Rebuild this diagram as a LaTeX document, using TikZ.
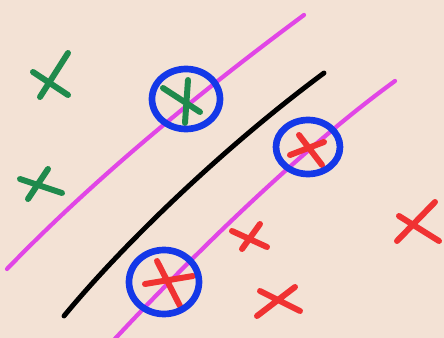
\documentclass[tikz,border=0pt]{standalone}
\definecolor{sfondo}{HTML}{F3E2D5}
\definecolor{verdecroce}{HTML}{1F8A4C}
\definecolor{rossocroce}{HTML}{F03232}
\definecolor{blucerchio}{HTML}{1438E8}
\definecolor{magentalinea}{HTML}{E146E6}
\tikzset{
  croceverde/.style={verdecroce,line width=3.4pt,line cap=round},
  crocerossa/.style={rossocroce,line width=3.4pt,line cap=round},
  cerchio/.style={blucerchio,line width=3.8pt},
  margine/.style={magentalinea,line width=2.4pt,line cap=round},
  separatore/.style={black,line width=2.8pt,line cap=round}
}
\begin{document}
\begin{tikzpicture}[x=0.02cm,y=-0.02cm]
        %sfondo
        \fill[sfondo](0,0)rectangle(444,338);
        \useasboundingbox(0,0)rectangle(444,338);

        %disegno margini
        \draw[margine](7,269)..controls (95,178) and (200,92)..(304,15);
        \draw[margine](112,342)..controls (190,258) and (300,150)..(395,81);

        %disegno separatore
        \draw[separatore](64,316)..controls (120,248) and (220,150)..(324,73);

        %croci verdi
        \draw[croceverde](68,53)--(40,97) (33,72)--(68,95);
        \draw[croceverde](48,169)--(28,199) (20,179)--(62,193);
        \draw[croceverde](188,80)--(185,123) (163,88)--(200,112);

        %croci rosse
        \draw[crocerossa](299,135)--(322,165) (290,155)--(324,142);
        \draw[crocerossa](157,261)--(180,306) (145,284)--(193,276);
        \draw[crocerossa](232,231)--(267,247) (260,224)--(242,249);
        \draw[crocerossa](260,291)--(300,311) (295,287)--(257,316);
        \draw[crocerossa](399,216)--(439,241) (435,202)--(397,241);

        %cerchi sui vettori di supporto
        \draw[cerchio](186,99)ellipse[x radius=34,y radius=30];
        \draw[cerchio](308,147)ellipse[x radius=32,y radius=27];
        \draw[cerchio](164,282)ellipse[x radius=35,y radius=32];
\end{tikzpicture}
\end{document}
